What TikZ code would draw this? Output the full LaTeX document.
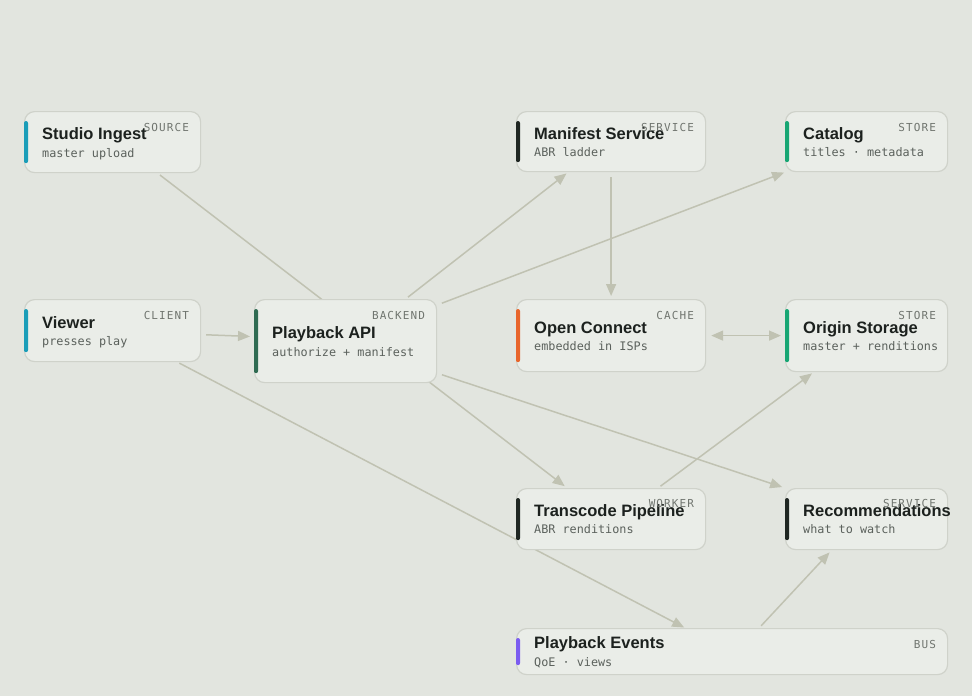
\documentclass[tikz,border=0pt]{standalone}
\usepackage{fontspec}
\setmainfont{Liberation Sans}
\newfontfamily\subfont{DejaVu Sans Mono}
\newfontfamily\tagfont[LetterSpace=10]{DejaVu Sans Mono}
\usetikzlibrary{arrows.meta, calc, positioning, backgrounds}
\definecolor{canvas}{HTML}{E2E5DF}
\definecolor{boxfill}{HTML}{EAEDE8}
\definecolor{boxline}{HTML}{CFD2CA}
\definecolor{wire}{HTML}{C0C2B2}
\definecolor{titlecol}{HTML}{1C211E}
\definecolor{subcol}{HTML}{5B615C}
\definecolor{tagcol}{HTML}{70756F}
\definecolor{acccyan}{HTML}{1A9DB8}
\definecolor{accpine}{HTML}{2F6B52}
\definecolor{accink}{HTML}{1F2622}
\definecolor{accgreen}{HTML}{17A673}
\definecolor{accorange}{HTML}{E8652B}
\definecolor{accviolet}{HTML}{7B5CF0}

\tikzset{
    box/.style={draw=boxline, fill=boxfill, rounded corners=10pt, line width=1.2pt, inner sep=0pt, anchor=north west},
    bar/.style={fill=#1, rounded corners=2pt},
    title/.style={anchor=base west, inner sep=0pt, text=titlecol, font=\fontsize{16.5}{18}\selectfont\bfseries},
    sub/.style={anchor=base west, inner sep=0pt, text=subcol, font=\fontsize{11.8}{13}\subfont},
    tag/.style={anchor=base east, inner sep=0pt, text=tagcol, font=\fontsize{11}{12}\tagfont},
    tip/.style={Triangle[length=12pt, width=10pt]},
    wire/.style={draw=wire, line width=1.5pt, -{Triangle[length=12pt, width=10pt]}},
}

\begin{document}
\begin{tikzpicture}[x=1pt, y=-1pt]
        \useasboundingbox (0,0) rectangle (972,696);

        % components
        \node[box, minimum width=176pt, minimum height=61pt] (ingest) at (24,111) {};
        \fill[bar=acccyan] ($(ingest.north west)+(0,10)$) rectangle ($(ingest.south west)+(4,-10)$);
        \node[title] (ingestT) at ($(ingest.west)+(18,-2.5)$) {Studio Ingest};
        \node[sub] (ingestS) at ($(ingest.west)+(18,15)$) {master upload};
        \node[tag] (ingestG) at ($(ingest.north east)+(-12,20.5)$) {SOURCE};

        \node[box, minimum width=176pt, minimum height=62pt] (viewer) at (24,299) {};
        \fill[bar=acccyan] ($(viewer.north west)+(0,10)$) rectangle ($(viewer.south west)+(4,-10)$);
        \node[title] (viewerT) at ($(viewer.west)+(18,-2.5)$) {Viewer};
        \node[sub] (viewerS) at ($(viewer.west)+(18,15)$) {presses play};
        \node[tag] (viewerG) at ($(viewer.north east)+(-12,20)$) {CLIENT};

        \node[box, minimum width=182pt, minimum height=83pt] (api) at (254,299) {};
        \fill[bar=accpine] ($(api.north west)+(0,10)$) rectangle ($(api.south west)+(4,-10)$);
        \node[title] (apiT) at ($(api.west)+(18,-2.5)$) {Playback API};
        \node[sub] (apiS) at ($(api.west)+(18,15)$) {authorize + manifest};
        \node[tag] (apiG) at ($(api.north east)+(-12,20)$) {BACKEND};

        \node[box, minimum width=189pt, minimum height=60pt] (manifest) at (516,111) {};
        \fill[bar=accink] ($(manifest.north west)+(0,10)$) rectangle ($(manifest.south west)+(4,-10)$);
        \node[title] (manifestT) at ($(manifest.west)+(18,-2.5)$) {Manifest Service};
        \node[sub] (manifestS) at ($(manifest.west)+(18,15)$) {ABR ladder};
        \node[tag] (manifestG) at ($(manifest.north east)+(-12,20)$) {SERVICE};

        \node[box, minimum width=162pt, minimum height=60pt] (catalog) at (785,111) {};
        \fill[bar=accgreen] ($(catalog.north west)+(0,10)$) rectangle ($(catalog.south west)+(4,-10)$);
        \node[title] (catalogT) at ($(catalog.west)+(18,-2.5)$) {Catalog};
        \node[sub] (catalogS) at ($(catalog.west)+(18,15)$) {titles · metadata};
        \node[tag] (catalogG) at ($(catalog.north east)+(-12,20)$) {STORE};

        \node[box, minimum width=189pt, minimum height=72pt] (openc) at (516,299) {};
        \fill[bar=accorange] ($(openc.north west)+(0,10)$) rectangle ($(openc.south west)+(4,-10)$);
        \node[title] (opencT) at ($(openc.west)+(18,-2.5)$) {Open Connect};
        \node[sub] (opencS) at ($(openc.west)+(18,15)$) {embedded in ISPs};
        \node[tag] (opencG) at ($(openc.north east)+(-12,20)$) {CACHE};

        \node[box, minimum width=162pt, minimum height=72pt] (origin) at (785,299) {};
        \fill[bar=accgreen] ($(origin.north west)+(0,10)$) rectangle ($(origin.south west)+(4,-10)$);
        \node[title] (originT) at ($(origin.west)+(18,-2.5)$) {Origin Storage};
        \node[sub] (originS) at ($(origin.west)+(18,15)$) {master + renditions};
        \node[tag] (originG) at ($(origin.north east)+(-12,20)$) {STORE};

        \node[box, minimum width=189pt, minimum height=61pt] (transcode) at (516,488) {};
        \fill[bar=accink] ($(transcode.north west)+(0,10)$) rectangle ($(transcode.south west)+(4,-10)$);
        \node[title] (transcodeT) at ($(transcode.west)+(18,-2.5)$) {Transcode Pipeline};
        \node[sub] (transcodeS) at ($(transcode.west)+(18,14.5)$) {ABR renditions};
        \node[tag] (transcodeG) at ($(transcode.north east)+(-12,19)$) {WORKER};

        \node[box, minimum width=162pt, minimum height=61pt] (recs) at (785,488) {};
        \fill[bar=accink] ($(recs.north west)+(0,10)$) rectangle ($(recs.south west)+(4,-10)$);
        \node[title] (recsT) at ($(recs.west)+(18,-2.5)$) {Recommendations};
        \node[sub] (recsS) at ($(recs.west)+(18,14.5)$) {what to watch};
        \node[tag] (recsG) at ($(recs.north east)+(-12,19)$) {SERVICE};

        \node[box, minimum width=431pt, minimum height=46pt] (events) at (516,628) {};
        \fill[bar=accviolet] ($(events.north west)+(0,10)$) rectangle ($(events.south west)+(4,-10)$);
        \node[title] (eventsT) at ($(events.west)+(18,-3.5)$) {Playback Events};
        \node[sub] (eventsS) at ($(events.west)+(18,14.5)$) {QoE · views};
        \node[tag] (eventsG) at ($(events.north east)+(-12,20)$) {BUS};

        % connectors, behind the boxes
        \begin{pgfonlayer}{background}
            \fill[canvas] (0,0) rectangle (972,696);
            \draw [wire, shorten <=3pt, shorten >=3pt] ($(ingest.south)+(45,0)$) -- ($(transcode.north)+(-44,0)$);
            \draw [wire, shorten <=5pt, shorten >=4pt] ($(viewer.east)+(0,4)$) -- ($(api.west)+(0,-4.5)$);
            \draw [wire, shorten <=2pt, shorten >=1pt] ($(viewer.south)+(65,0)$) -- ($(events.north)+(-47,0)$);
            \draw [wire, shorten <=3pt, shorten >=2pt] ($(api.north)+(60,0)$) -- ($(manifest.south)+(-43,0)$);
            \draw [wire, shorten <=5pt, shorten >=1pt] ($(api.north east)+(0,6)$) -- (catalog.south west);
            \draw [wire, shorten <=5pt, shorten >=3pt] ($(api.south east)+(0,-10)$) -- (recs.north west);
            \draw [wire, shorten <=5pt, shorten >=3pt] (manifest.south) -- (openc.north);
            \draw [wire, {Triangle[length=12pt, width=10pt]}-{Triangle[length=12pt, width=10pt]}, shorten <=5pt, shorten >=4pt] (openc.east) -- (origin.west);
            \draw [wire, shorten <=3pt, shorten >=2pt] ($(transcode.north)+(47,0)$) -- ($(origin.south)+(-53,0)$);
            \draw [wire, shorten <=3pt, shorten >=3pt] ($(events.north)+(27,0)$) -- ($(recs.south)+(-35,0)$);
        \end{pgfonlayer}
    \end{tikzpicture}
\end{document}
